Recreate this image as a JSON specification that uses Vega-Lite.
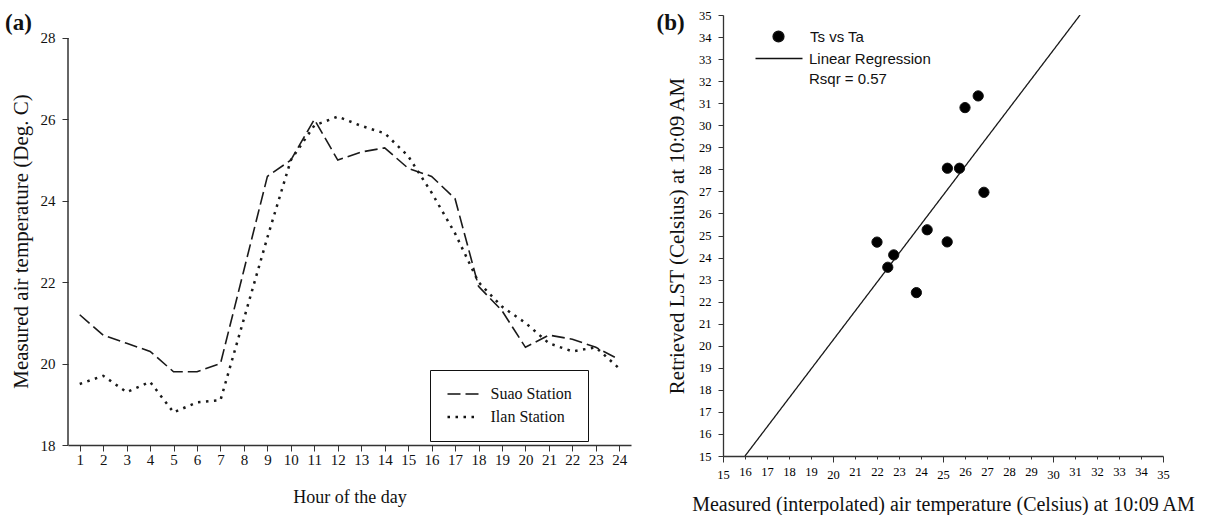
{
  "$schema": "https://vega.github.io/schema/vega-lite/v6.json",
  "padding": {"left": 5, "top": 9, "right": 5, "bottom": 0},
  "spacing": 25,
  "resolve": {"scale": {"strokeDash": "independent", "shape": "independent", "strokeWidth": "independent"}, "legend": {"strokeDash": "independent", "shape": "independent", "strokeWidth": "independent"}},
  "config": {
    "view": {"stroke": null},
    "font": "Liberation Serif",
    "axis": {"grid": false, "domainColor": "#333", "tickColor": "#333", "labelColor": "#111", "titleColor": "#111", "titleFontWeight": "normal", "labelFont": "Liberation Serif", "titleFont": "Liberation Serif", "labelOverlap": false, "labelFlush": false},
    "title": {"font": "Liberation Serif", "fontWeight": "bold", "color": "#111"}
  },
  "datasets": {
    "air": [
      {"hour": 1, "station": "Suao Station", "temp": 21.2},
      {"hour": 2, "station": "Suao Station", "temp": 20.7},
      {"hour": 3, "station": "Suao Station", "temp": 20.5},
      {"hour": 4, "station": "Suao Station", "temp": 20.3},
      {"hour": 5, "station": "Suao Station", "temp": 19.8},
      {"hour": 6, "station": "Suao Station", "temp": 19.8},
      {"hour": 7, "station": "Suao Station", "temp": 20.0},
      {"hour": 8, "station": "Suao Station", "temp": 22.3},
      {"hour": 9, "station": "Suao Station", "temp": 24.6},
      {"hour": 10, "station": "Suao Station", "temp": 25.0},
      {"hour": 11, "station": "Suao Station", "temp": 26.0},
      {"hour": 12, "station": "Suao Station", "temp": 25.0},
      {"hour": 13, "station": "Suao Station", "temp": 25.2},
      {"hour": 14, "station": "Suao Station", "temp": 25.3},
      {"hour": 15, "station": "Suao Station", "temp": 24.8},
      {"hour": 16, "station": "Suao Station", "temp": 24.6},
      {"hour": 17, "station": "Suao Station", "temp": 24.05},
      {"hour": 18, "station": "Suao Station", "temp": 21.9},
      {"hour": 19, "station": "Suao Station", "temp": 21.3},
      {"hour": 20, "station": "Suao Station", "temp": 20.4},
      {"hour": 21, "station": "Suao Station", "temp": 20.7},
      {"hour": 22, "station": "Suao Station", "temp": 20.6},
      {"hour": 23, "station": "Suao Station", "temp": 20.4},
      {"hour": 24, "station": "Suao Station", "temp": 20.1},
      {"hour": 1, "station": "Ilan Station", "temp": 19.5},
      {"hour": 2, "station": "Ilan Station", "temp": 19.7},
      {"hour": 3, "station": "Ilan Station", "temp": 19.3},
      {"hour": 4, "station": "Ilan Station", "temp": 19.55},
      {"hour": 5, "station": "Ilan Station", "temp": 18.8},
      {"hour": 6, "station": "Ilan Station", "temp": 19.05},
      {"hour": 7, "station": "Ilan Station", "temp": 19.1},
      {"hour": 8, "station": "Ilan Station", "temp": 21.1},
      {"hour": 9, "station": "Ilan Station", "temp": 23.1},
      {"hour": 10, "station": "Ilan Station", "temp": 25.0},
      {"hour": 11, "station": "Ilan Station", "temp": 25.85},
      {"hour": 12, "station": "Ilan Station", "temp": 26.07},
      {"hour": 13, "station": "Ilan Station", "temp": 25.84},
      {"hour": 14, "station": "Ilan Station", "temp": 25.66},
      {"hour": 15, "station": "Ilan Station", "temp": 25.1},
      {"hour": 16, "station": "Ilan Station", "temp": 24.2},
      {"hour": 17, "station": "Ilan Station", "temp": 23.2},
      {"hour": 18, "station": "Ilan Station", "temp": 22.0},
      {"hour": 19, "station": "Ilan Station", "temp": 21.4},
      {"hour": 20, "station": "Ilan Station", "temp": 21.0},
      {"hour": 21, "station": "Ilan Station", "temp": 20.5},
      {"hour": 22, "station": "Ilan Station", "temp": 20.3},
      {"hour": 23, "station": "Ilan Station", "temp": 20.4},
      {"hour": 24, "station": "Ilan Station", "temp": 19.88}
    ],
    "scatter": [
      {"ta": 22.0, "ts": 24.7},
      {"ta": 22.76, "ts": 24.12},
      {"ta": 22.49, "ts": 23.56},
      {"ta": 23.79, "ts": 22.41},
      {"ta": 24.28, "ts": 25.26},
      {"ta": 25.19, "ts": 24.71},
      {"ta": 25.2, "ts": 28.05},
      {"ta": 25.75, "ts": 28.05},
      {"ta": 26.0, "ts": 30.8},
      {"ta": 26.6, "ts": 31.33},
      {"ta": 26.86, "ts": 26.96}
    ],
    "regression": [
      {"ta": 16.0, "ts": 15.0},
      {"ta": 31.23, "ts": 35.0}
    ]
  },
  "hconcat": [
    {
      "title": {"text": "(a)", "anchor": "start", "frame": "bounds", "fontSize": 23, "offset": -19.5, "dx": -5},
      "width": 563,
      "height": 430,
      "layer": [
        {
          "data": {"name": "air"},
          "mark": {"type": "line", "color": "#1a1a1a", "strokeCap": "butt"},
          "encoding": {
            "x": {"field": "hour", "type": "quantitative", "scale": {"domain": [0.5, 24.5], "nice": false, "zero": false},
                  "axis": {"values": [1,2,3,4,5,6,7,8,9,10,11,12,13,14,15,16,17,18,19,20,21,22,23,24], "title": "Hour of the day", "labelOverlap": false, "labelFlush": false, "tickSize": 6, "labelFontSize": 15, "labelPadding": 1, "titleFontSize": 18, "titlePadding": 21, "domainWidth": 1.5}},
            "y": {"field": "temp", "type": "quantitative", "scale": {"domain": [18, 28.565], "nice": false, "zero": false},
                  "axis": {"values": [18, 20, 22, 24, 26, 28], "title": "Measured air temperature (Deg. C)", "labelOverlap": false, "labelFlush": false, "domain": false, "tickSize": 6, "labelFontSize": 15, "labelPadding": 7, "titleFontSize": 21, "titlePadding": 9, "titleY": 226}},
            "strokeDash": {"field": "station", "type": "nominal",
                  "scale": {"domain": ["Suao Station", "Ilan Station"], "range": [[13, 5], [2.5, 5.5]]},
                  "legend": {"title": null, "orient": "none", "legendX": 362, "legendY": 355, "padding": 16, "strokeColor": "#111", "fillColor": "white", "symbolType": "M-3.2,0H3.2", "symbolSize": 100, "symbolOffset": 9.5, "symbolStrokeWidth": 2, "symbolStrokeColor": "#111", "labelFont": "Liberation Serif", "labelFontSize": 16, "labelColor": "#111", "labelOffset": 19, "rowPadding": 7}},
            "strokeWidth": {"field": "station", "type": "nominal",
                  "scale": {"domain": ["Suao Station", "Ilan Station"], "range": [1.6, 2.5]}, "legend": null}
          }
        },
        {
          "data": {"values": [{}]},
          "mark": {"type": "rule", "color": "#333", "strokeWidth": 1.5},
          "encoding": {
            "x": {"datum": 0.5, "type": "quantitative",
                  "axis": {"values": [1,2,3,4,5,6,7,8,9,10,11,12,13,14,15,16,17,18,19,20,21,22,23,24], "title": "Hour of the day", "labelOverlap": false, "labelFlush": false, "tickSize": 6, "labelFontSize": 15, "labelPadding": 1, "titleFontSize": 18, "titlePadding": 21, "domainWidth": 1.5}},
            "y": {"datum": 18, "type": "quantitative",
                  "axis": {"values": [18, 20, 22, 24, 26, 28], "title": "Measured air temperature (Deg. C)", "labelOverlap": false, "labelFlush": false, "domain": false, "tickSize": 6, "labelFontSize": 15, "labelPadding": 7, "titleFontSize": 21, "titlePadding": 9, "titleY": 226}},
            "y2": {"datum": 28}
          }
        }
      ]
    },
    {
      "title": {"text": "(b)", "anchor": "start", "frame": "bounds", "fontSize": 23, "offset": -25.5, "dx": -10},
      "width": 440,
      "height": 441,
      "encoding": {
        "x": {"field": "ta", "type": "quantitative", "scale": {"domain": [15, 35], "nice": false, "zero": false},
              "axis": {"values": [15,16,17,18,19,20,21,22,23,24,25,26,27,28,29,30,31,32,33,34,35], "title": "Measured (interpolated) air temperature (Celsius) at 10:09 AM", "labelOverlap": false, "labelFlush": false, "labelColor": "#000",
                       "tickSize": {"condition": {"test": "datum.value % 5 === 0", "value": 6}, "value": 3}, "labelFontSize": 12.5, "labelPadding": 6, "titleFontSize": 20, "titlePadding": 14, "domainWidth": 1.3}},
        "y": {"field": "ts", "type": "quantitative", "scale": {"domain": [15, 35], "nice": false, "zero": false},
              "axis": {"values": [15,16,17,18,19,20,21,22,23,24,25,26,27,28,29,30,31,32,33,34,35], "title": "Retrieved LST (Celsius)  at 10:09 AM", "labelOverlap": false, "labelFlush": false, "labelColor": "#000",
                       "tickSize": 5, "labelFontSize": 12.5, "labelPadding": 7, "titleFontSize": 21, "titlePadding": 11, "domainWidth": 1.3}}
      },
      "layer": [
        {
          "data": {"name": "regression"},
          "mark": {"type": "line", "color": "#1a1a1a", "strokeWidth": 1.3, "clip": true},
          "encoding": {
            "strokeDash": {"datum": "Linear Regression", "type": "nominal",
                  "scale": {"domain": ["Linear Regression", "Rsqr = 0.57"], "range": [[1, 0], [0, 10]]},
                  "legend": {"title": null, "orient": "none", "legendX": 48.5, "legendY": 36, "padding": 0, "symbolType": "M-4.7,0H4.7", "symbolSize": 100, "symbolStrokeWidth": 1.3, "symbolStrokeColor": "#111", "labelFont": "Liberation Sans", "labelFontSize": 15, "labelColor": "#111", "labelOffset": 22.5, "rowPadding": 4.5}}
          }
        },
        {
          "data": {"name": "scatter"},
          "mark": {"type": "point", "filled": true, "color": "#000", "stroke": "#111", "strokeWidth": 1, "opacity": 1, "size": 105},
          "encoding": {
            "shape": {"datum": "Ts vs Ta", "type": "nominal",
                  "scale": {"domain": ["Ts vs Ta"], "range": ["circle"]},
                  "legend": {"title": null, "orient": "none", "legendX": 48, "legendY": 14, "padding": 0, "symbolSize": 115, "labelFont": "Liberation Sans", "labelFontSize": 15, "labelColor": "#111", "labelOffset": 24}}
          }
        }
      ]
    }
  ]
}
